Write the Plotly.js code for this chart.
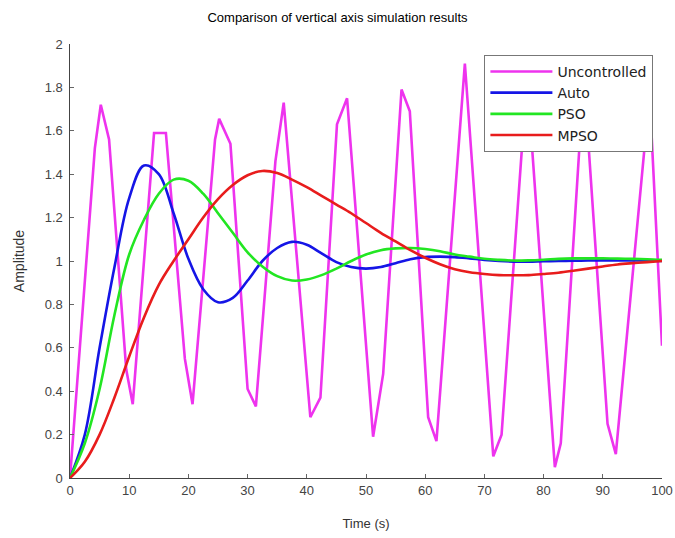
<!DOCTYPE html>
<html>
<head>
<meta charset="utf-8">
<script src="https://cdn.plot.ly/plotly-3.0.1.min.js"></script>
<style>html,body{margin:0;padding:0;background:#fff;}#chart{width:675px;height:538px;}</style>
</head>
<body>
<div id="chart"></div>
<script>
// Uncontrolled response (piecewise-linear vertices)
const tUncontrolled = [0, 4.2, 5.2, 6.6, 9.5, 10.6, 14.2, 16.2, 19.4, 20.7, 24.5, 25.2, 27.1, 30.0, 31.4, 34.7, 36.1, 40.6, 42.3, 45.1, 46.8, 51.2, 52.9, 56.0, 57.4, 60.5, 61.9, 66.7, 71.5, 72.9, 77.2, 81.9, 82.9, 86.8, 90.8, 92.2, 97.9, 100];
const vUncontrolled = [0, 1.52, 1.72, 1.56, 0.50, 0.34, 1.59, 1.59, 0.55, 0.34, 1.56, 1.655, 1.54, 0.41, 0.33, 1.46, 1.73, 0.28, 0.37, 1.63, 1.75, 0.19, 0.48, 1.79, 1.69, 0.28, 0.17, 1.91, 0.10, 0.20, 1.85, 0.05, 0.16, 1.85, 0.25, 0.11, 1.77, 0.61];

// Controlled responses sampled every 2.5 s
const tSmooth = [0, 2.5, 5, 7.5, 10, 12.5, 15, 17.5, 20, 22.5, 25, 27.5, 30, 32.5, 35, 37.5, 40, 42.5, 45, 47.5, 50, 52.5, 55, 57.5, 60, 62.5, 65, 67.5, 70, 72.5, 75, 77.5, 80, 82.5, 85, 87.5, 90, 92.5, 95, 97.5, 100];
const vAuto = [0, 0.2, 0.6, 0.97, 1.29, 1.44, 1.40, 1.22, 1.01, 0.87, 0.81, 0.83, 0.91, 1.0, 1.06, 1.088, 1.075, 1.035, 0.995, 0.972, 0.965, 0.972, 0.99, 1.008, 1.018, 1.02, 1.018, 1.012, 1.005, 1.0, 0.997, 0.997, 0.999, 1.0, 1.001, 1.002, 1.003, 1.003, 1.003, 1.002, 1.0];
const vPSO = [0, 0.16, 0.41, 0.75, 1.03, 1.19, 1.31, 1.375, 1.37, 1.31, 1.22, 1.13, 1.04, 0.975, 0.93, 0.91, 0.915, 0.935, 0.965, 1.0, 1.03, 1.05, 1.058, 1.06, 1.055, 1.045, 1.03, 1.02, 1.01, 1.005, 1.002, 1.003, 1.006, 1.01, 1.012, 1.012, 1.012, 1.011, 1.01, 1.008, 1.005];
const vMPSO = [0, 0.075, 0.2, 0.37, 0.56, 0.74, 0.89, 1.0, 1.1, 1.2, 1.285, 1.35, 1.395, 1.415, 1.405, 1.375, 1.34, 1.30, 1.26, 1.22, 1.175, 1.13, 1.09, 1.05, 1.015, 0.985, 0.962, 0.948, 0.94, 0.935, 0.934, 0.935, 0.94, 0.946, 0.955, 0.965, 0.975, 0.984, 0.99, 0.995, 1.0];

const seriesNames = ['Uncontrolled', 'Auto', 'PSO', 'MPSO'];
const seriesColors = ['#ee33ee', '#1515e6', '#22e622', '#e81c1c'];

const traces = [
  {x: tUncontrolled, y: vUncontrolled, name: seriesNames[0], mode: 'lines', line: {color: seriesColors[0], width: 2.6}},
  {x: tSmooth, y: vAuto, name: seriesNames[1], mode: 'lines', line: {color: seriesColors[1], width: 2.6, shape: 'spline', smoothing: 1}},
  {x: tSmooth, y: vPSO, name: seriesNames[2], mode: 'lines', line: {color: seriesColors[2], width: 2.6, shape: 'spline', smoothing: 1}},
  {x: tSmooth, y: vMPSO, name: seriesNames[3], mode: 'lines', line: {color: seriesColors[3], width: 2.6, shape: 'spline', smoothing: 1}}
];

const axisCommon = {
  showgrid: false, zeroline: false, showline: true, linecolor: '#444', linewidth: 1,
  ticks: 'inside', ticklen: 4, tickcolor: '#666', tickwidth: 1,
  tickfont: {family: 'Liberation Sans, Arial, sans-serif', size: 13, color: '#444'}
};

const layout = {
  width: 675, height: 538,
  margin: {l: 70, r: 13, t: 44, b: 60},
  paper_bgcolor: '#fff', plot_bgcolor: '#fff',
  title: {text: 'Comparison of vertical axis simulation results', x: 0.5, xanchor: 'center', y: 0.968, yanchor: 'middle',
          font: {family: 'Liberation Sans Narrow, Liberation Sans, Arial, sans-serif', size: 13, color: '#000'}},
  xaxis: Object.assign({}, axisCommon, {range: [0, 100], dtick: 10, tick0: 0,
          title: {text: 'Time (s)', standoff: 22, font: {family: 'Liberation Sans, Arial, sans-serif', size: 13, color: '#333'}}}),
  yaxis: Object.assign({}, axisCommon, {range: [0, 2], dtick: 0.2, tick0: 0, ticksuffix: ' ',
          title: {text: 'Amplitude', standoff: 16, font: {family: 'Liberation Sans, Arial, sans-serif', size: 14, color: '#333'}}}),
  showlegend: true,
  legend: {x: 0.700, y: 0.975, xanchor: 'left', yanchor: 'top', bgcolor: '#fff', bordercolor: '#777', borderwidth: 1,
           font: {family: 'DejaVu Sans, sans-serif', size: 14, color: '#222'}, itemwidth: 62, tracegroupgap: 0}
};

Plotly.newPlot('chart', traces, layout, {staticPlot: true, displayModeBar: false});
</script>
</body>
</html>
